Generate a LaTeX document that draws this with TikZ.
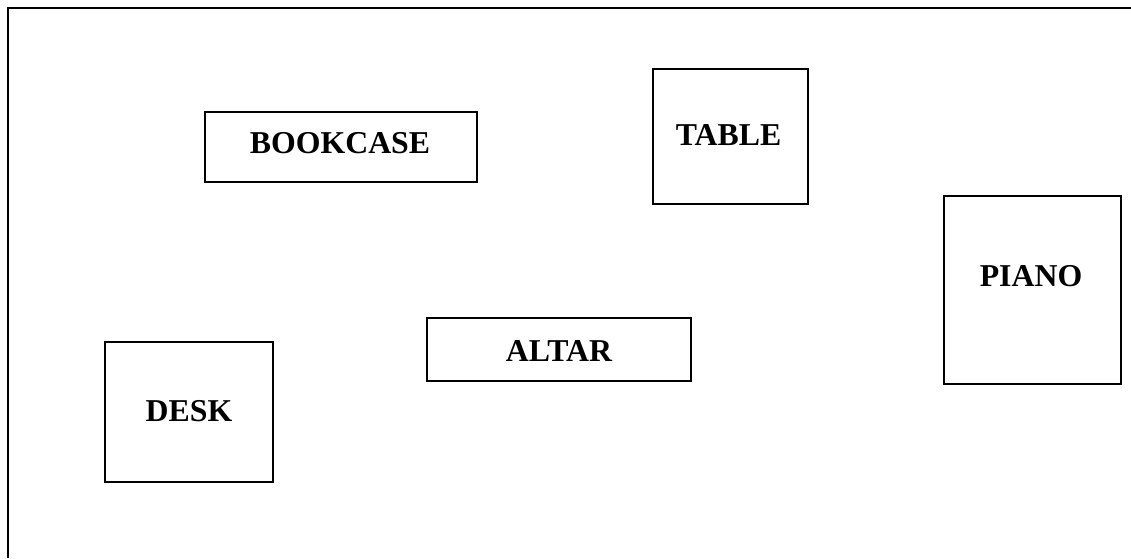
\documentclass[tikz,border=0pt]{standalone}
\usepackage{fontspec}
\setmainfont{Liberation Serif}
\begin{document}
\begin{tikzpicture}[x=1pt,y=-1pt,
  item/.style={draw=black,line width=1.6pt,inner sep=0pt,minimum width=#1},
  lbl/.style={anchor=base,inner sep=0pt,font=\fontsize{31.8}{36}\selectfont\bfseries}]
\useasboundingbox (0,0) rectangle (1131,558);
\draw[line width=2.3pt] (8,558) -- (8,8) -- (1131,8);
% boxes
\node[item=272pt,minimum height=70pt] (bookcase) at (341,147) {};
\node[item=155pt,minimum height=135pt] (table) at (730.5,136.5) {};
\node[item=177pt,minimum height=188pt] (piano) at (1032.5,290) {};
\node[item=264pt,minimum height=63pt] (altar) at (559,349.5) {};
\node[item=168pt,minimum height=140pt] (desk) at (189,412) {};
% labels
\node[lbl] (bookcaseL) at (340,153) {BOOKCASE};
\node[lbl] (tableL) at (728.5,145) {TABLE};
\node[lbl] (pianoL) at (1031,286) {PIANO};
\node[lbl] (altarL) at (559,361) {ALTAR};
\node[lbl] (deskL) at (189,421) {DESK};
\end{tikzpicture}
\end{document}
